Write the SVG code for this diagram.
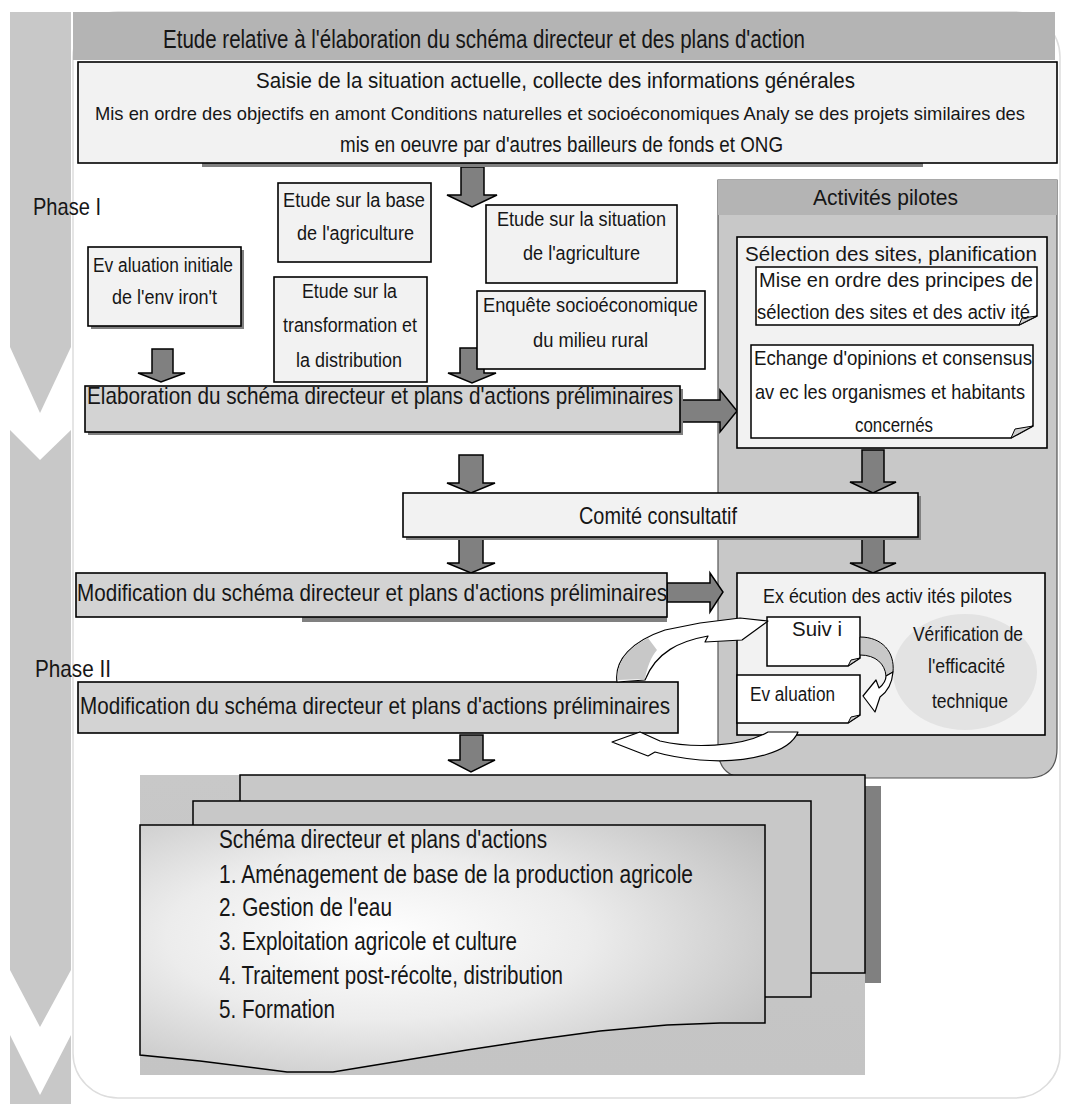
<svg xmlns="http://www.w3.org/2000/svg" width="1065" height="1104" viewBox="0 0 1065 1104">
  <defs>
    <style>
      text { font-family: "Liberation Sans", Arial, sans-serif; fill: #161616; }
      .s18 { font-size: 20px; }
      .s19 { font-size: 21px; }
      .s20 { font-size: 22px; }
      .s22 { font-size: 24px; }
      .s24 { font-size: 25px; }
      .s25 { font-size: 25px; }
      .band { fill: #c8c8c8; }
      .box { fill: #f2f2f2; stroke: #000; stroke-width: 1.6; }
      .gbox { fill: #d3d3d3; stroke: #000; stroke-width: 1.6; }
      .paper { fill: #ffffff; stroke: #000; stroke-width: 1.5; }
      .fold { fill: #cfcfcf; stroke: #000; stroke-width: 1; }
      .shadow { fill: #808080; }
      .arrow { fill: #808080; stroke: #000; stroke-width: 1.5; stroke-linejoin: miter; }
      .curl { fill: #ffffff; stroke: #000; stroke-width: 1.2; stroke-linejoin: round; }
      .curlshade { fill: #c8c8c8; stroke: none; }
      .page { fill: #c8c8c8; stroke: #000; stroke-width: 1.5; }
    </style>
    <radialGradient id="pageGrad" cx="0.38" cy="0.45" r="0.75">
      <stop offset="0" stop-color="#ffffff"/>
      <stop offset="0.45" stop-color="#ececec"/>
      <stop offset="1" stop-color="#bdbdbd"/>
    </radialGradient>
    <linearGradient id="stackGrad" x1="0" y1="0" x2="0" y2="1">
      <stop offset="0" stop-color="#c8c8c8"/>
      <stop offset="1" stop-color="#c4c4c4"/>
    </linearGradient>
  </defs>

  <!-- outer frame -->
  <rect x="73" y="12" width="987" height="1086" rx="45" ry="45" fill="#ffffff" stroke="#dddddd" stroke-width="1.5"/>

  <!-- phase chevrons on the left -->
  <g id="phase-band">
    <polygon class="band" points="10,12 71,12 71,347 40,413 10,347"/>
    <polygon class="band" points="10,430 40,460 71,430 71,970 40,1027 10,970"/>
    <polygon class="band" points="10,1035 40,1095 71,1035 71,1104 10,1104"/>
  </g>

  <!-- title bar -->
  <g id="title">
    <rect x="73" y="12" width="982" height="48" fill="#b4b4b4"/>
    <text class="s24" x="163" y="48" textLength="642" lengthAdjust="spacingAndGlyphs">Etude relative à l'élaboration du schéma directeur et des plans d'action</text>
  </g>

  <!-- pilot activities panel -->
  <g id="pilot-panel">
    <path d="M718,180 H1057 V748 Q1057,778 1027,778 H748 Q718,778 718,748 Z" fill="#c8c8c8" stroke="#555" stroke-width="1.2"/>
    <rect x="718" y="180" width="339" height="35" fill="#b4b4b4"/>
    <text class="s20" x="813" y="205" textLength="145" lengthAdjust="spacingAndGlyphs">Activités pilotes</text>
  </g>

  <g id="connectors">
    <!-- down arrows, main column -->
    <polygon class="arrow" points="461,167 484,167 484,195 497,195 472,207 447,195 461,195"/>
    <polygon class="arrow" points="152,349 173,349 173,373 185,373 161,382 138,373 152,373"/>
    <polygon class="arrow" points="460,348 484,348 484,373 496,373 472,383 448,373 460,373"/>
    <polygon class="arrow" points="459,455 483,455 483,483 495,483 471,493 447,483 459,483"/>
    <polygon class="arrow" points="459,538 483,538 483,563 495,563 471,573 447,563 459,563"/>
    <polygon class="arrow" points="460,735 483,735 483,760 495,760 471,772 448,760 460,760"/>
    <!-- down arrows, pilot column -->
    <polygon class="arrow" points="862,327 883,327 883,343 897,343 872,350 848,343 862,343"/>
    <polygon class="arrow" points="862,450 884,450 884,482 896,482 873,493 850,482 862,482"/>
    <polygon class="arrow" points="862,537 884,537 884,563 896,563 873,573 850,563 862,563"/>
    <!-- right arrows -->
    <polygon class="arrow" points="680,400 720,400 720,390 737,411 720,432 720,422 680,422"/>
    <polygon class="arrow" points="667,583 710,583 710,573 723,592 710,612 710,602 667,602"/>
  </g>

  <!-- general information box -->
  <g id="node-saisie">
    <rect class="shadow" x="202" y="162" width="721" height="5"/>
    <rect class="box" x="78" y="62" width="979" height="101"/>
    <text class="s20" x="256" y="88" textLength="599" lengthAdjust="spacingAndGlyphs">Saisie de la situation actuelle, collecte des informations générales</text>
    <text x="95" y="120" font-size="19" textLength="930" lengthAdjust="spacingAndGlyphs">Mis en ordre des objectifs en amont Conditions naturelles et socioéconomiques Analy se des projets similaires des</text>
    <text class="s20" x="340" y="152" textLength="443" lengthAdjust="spacingAndGlyphs">mis en oeuvre par d'autres bailleurs de fonds et ONG</text>
  </g>

  <text id="phase-1" class="s22" x="33" y="215" textLength="68" lengthAdjust="spacingAndGlyphs">Phase I</text>

  <g id="node-evaluation-env">
    <rect class="shadow" x="91" y="250" width="153" height="79"/>
    <rect class="box" x="88" y="247" width="153" height="79"/>
    <text class="s18" x="93" y="272" textLength="140" lengthAdjust="spacingAndGlyphs">Ev aluation initiale</text>
    <text class="s18" x="112" y="304" textLength="105" lengthAdjust="spacingAndGlyphs">de l'env iron't</text>
  </g>

  <g id="node-base-agriculture">
    <rect class="box" x="278" y="183" width="153" height="79"/>
    <text class="s18" x="283" y="207" textLength="142" lengthAdjust="spacingAndGlyphs">Etude sur la base</text>
    <text class="s18" x="297" y="240" textLength="117" lengthAdjust="spacingAndGlyphs">de l'agriculture</text>
  </g>

  <g id="node-situation-agriculture">
    <rect class="box" x="486" y="205" width="191" height="78"/>
    <text class="s18" x="497" y="226" textLength="169" lengthAdjust="spacingAndGlyphs">Etude sur la situation</text>
    <text class="s18" x="523" y="260" textLength="117" lengthAdjust="spacingAndGlyphs">de l'agriculture</text>
  </g>

  <g id="node-transformation">
    <rect class="box" x="274" y="277" width="153" height="105"/>
    <text class="s18" x="302" y="298" textLength="95" lengthAdjust="spacingAndGlyphs">Etude sur la</text>
    <text class="s18" x="283" y="332" textLength="134" lengthAdjust="spacingAndGlyphs">transformation et</text>
    <text class="s18" x="296" y="367" textLength="106" lengthAdjust="spacingAndGlyphs">la distribution</text>
  </g>

  <g id="node-enquete">
    <rect class="box" x="477" y="291" width="228" height="78"/>
    <text class="s18" x="483" y="312" textLength="215" lengthAdjust="spacingAndGlyphs">Enquête socioéconomique</text>
    <text class="s18" x="533" y="347" textLength="115" lengthAdjust="spacingAndGlyphs">du milieu rural</text>
  </g>

  <g id="node-elaboration">
    <rect class="shadow" x="88" y="389" width="595" height="46"/>
    <rect class="gbox" x="85" y="386" width="595" height="46"/>
    <text class="s22" x="87" y="404" textLength="586" lengthAdjust="spacingAndGlyphs">Elaboration du schéma directeur et plans d'actions préliminaires</text>
  </g>

  <g id="node-selection">
    <rect class="box" x="737" y="237" width="310" height="211"/>
    <text x="745" y="261" font-size="21" textLength="292" lengthAdjust="spacingAndGlyphs">Sélection  des sites, planification</text>
  </g>

  <g id="node-principes">
    <path class="paper" d="M756,267 H1037 V316 L1019,325 H756 Z"/>
    <polygon class="fold" points="1037,316 1019,325 1022,318"/>
    <text class="s18" x="759" y="287" textLength="274" lengthAdjust="spacingAndGlyphs">Mise en ordre des principes de</text>
    <text class="s18" x="757" y="319" textLength="273" lengthAdjust="spacingAndGlyphs">sélection des sites et des activ ité</text>
  </g>

  <g id="node-echange">
    <path class="paper" d="M751,345 H1033 V426 L1011,438 H751 Z"/>
    <polygon class="fold" points="1033,426 1011,438 1015,429"/>
    <text class="s19" x="754" y="365" textLength="278" lengthAdjust="spacingAndGlyphs">Echange d'opinions et consensus</text>
    <text class="s19" x="755" y="399" textLength="270" lengthAdjust="spacingAndGlyphs">av ec les organismes et habitants</text>
    <text class="s19" x="855" y="432" textLength="78" lengthAdjust="spacingAndGlyphs">concernés</text>
  </g>

  <g id="node-comite">
    <rect class="shadow" x="406" y="496" width="515" height="44"/>
    <rect class="box" x="403" y="493" width="515" height="44"/>
    <text class="s22" x="579" y="524" textLength="158" lengthAdjust="spacingAndGlyphs">Comité consultatif</text>
  </g>

  <g id="node-modification-1">
    <rect class="shadow" x="302" y="617" width="365" height="5"/>
    <rect class="gbox" x="76" y="573" width="591" height="44"/>
    <text class="s22" x="77" y="601" textLength="590" lengthAdjust="spacingAndGlyphs">Modification du schéma directeur et plans d'actions préliminaires</text>
  </g>

  <text id="phase-2" class="s22" x="35" y="677" textLength="76" lengthAdjust="spacingAndGlyphs">Phase II</text>

  <g id="node-modification-2">
    <rect class="gbox" x="78" y="682" width="600" height="51"/>
    <text class="s22" x="80" y="714" textLength="590" lengthAdjust="spacingAndGlyphs">Modification du schéma directeur et plans d'actions préliminaires</text>
  </g>

  <g id="node-execution">
    <rect class="box" x="737" y="573" width="308" height="162"/>
    <ellipse cx="965" cy="672" rx="72" ry="58" fill="#e3e3e3"/>
    <text class="s18" x="763" y="603" textLength="249" lengthAdjust="spacingAndGlyphs">Ex écution des activ ités pilotes</text>
    <text class="s18" x="913" y="641" textLength="110" lengthAdjust="spacingAndGlyphs">Vérification de</text>
    <text class="s18" x="928" y="673" textLength="77" lengthAdjust="spacingAndGlyphs">l'efficacité</text>
    <text class="s18" x="932" y="708" textLength="76" lengthAdjust="spacingAndGlyphs">technique</text>
  </g>

  <g id="node-suivi">
    <path class="paper" d="M767,617 H860 V658 L848,666 H767 Z"/>
    <polygon class="fold" points="860,658 848,666 851,660"/>
    <text class="s18" x="792" y="636" textLength="50" lengthAdjust="spacingAndGlyphs">Suiv i</text>
  </g>

  <g id="node-evaluation">
    <path class="paper" d="M737,675 H860 V715 L848,723 H737 Z"/>
    <polygon class="fold" points="860,715 848,723 851,717"/>
    <text class="s18" x="750" y="701" textLength="85" lengthAdjust="spacingAndGlyphs">Ev aluation</text>
  </g>

  <!-- feedback loops between monitoring, evaluation and the plan -->
  <g id="loops">
    <path class="curlshade" d="M860,637 C882,637 895,652 893,672 L886,676 C885,664 876,655 860,655 Z"/>
    <path d="M860,637 C882,637 895,652 893,672 L886,676 C885,664 876,655 860,655 Z" fill="none" stroke="#000" stroke-width="1"/>
    <path class="curl" d="M893,672 C892,684 887,692 880,697 L875,712 L863,696 L876,680 L879,688 C884,684 886,680 886,676 Z"/>

    <path class="curl" d="M617,682 C614,660 632,641 665,630 L700,623 L740,618 L768,621 L742,640 L705,642 L708,636 C680,641 656,652 645,680 Z"/>
    <path class="curlshade" d="M618,680 C616,662 628,648 648,638 L657,650 C651,657 647,667 645,679 Z"/>
    <path class="curl" d="M612,742 L640,732 L660,741 C690,748 740,748 768,732 L798,732 C790,752 750,764 700,760 C680,758 665,755 655,752 L648,756 Z"/>
  </g>

  <!-- master plan document stack -->
  <g id="node-master-plan">
    <rect x="140" y="775" width="725" height="300" fill="url(#stackGrad)"/>
    <rect class="shadow" x="865" y="786" width="16" height="197"/>
    <rect class="page" x="240" y="775" width="625" height="198"/>
    <rect class="page" x="193" y="801" width="618" height="196"/>
    <path d="M140,825 H765 V1023 L720,1023 L667,1025 L600,1031 L533,1040 L467,1050 L400,1061 L333,1072 L287,1072 L200,1061 L140,1055 Z" fill="url(#pageGrad)" stroke="#000" stroke-width="1.5"/>
    <text class="s25" x="219" y="848" textLength="328" lengthAdjust="spacingAndGlyphs">Schéma directeur et plans d'actions</text>
    <text class="s25" x="219" y="883" textLength="474" lengthAdjust="spacingAndGlyphs">1. Aménagement de base de la production agricole</text>
    <text class="s25" x="219" y="916" textLength="173" lengthAdjust="spacingAndGlyphs">2. Gestion de l'eau</text>
    <text class="s25" x="219" y="950" textLength="298" lengthAdjust="spacingAndGlyphs">3. Exploitation agricole et culture</text>
    <text class="s25" x="219" y="984" textLength="344" lengthAdjust="spacingAndGlyphs">4. Traitement post-récolte, distribution</text>
    <text class="s25" x="219" y="1018" textLength="116" lengthAdjust="spacingAndGlyphs">5. Formation</text>
  </g>
</svg>
